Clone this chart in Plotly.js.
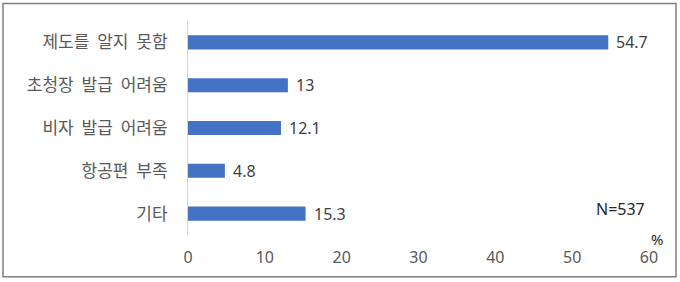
<!DOCTYPE html>
<html><head><meta charset="utf-8">
<script src="https://cdn.plot.ly/plotly-3.0.1.min.js"></script>
<style>html,body{margin:0;padding:0;background:#fff;}#chart{width:680px;height:282px;}
#chart .ytick text{word-spacing:4px;}</style>
</head><body><div id="chart"></div>
<script>
const categories = ["제도를 알지 못함", "초청장 발급 어려움", "비자 발급 어려움", "항공편 부족", "기타"];
const values = [54.7, 13, 12.1, 4.8, 15.3];
const xTicks = [0, 10, 20, 30, 40, 50, 60];
const noteText = "N=537";
const unitText = "%";

const FONT = "'Noto Sans', 'Noto Sans CJK KR', sans-serif";
const L = 188, R = 680 - 649, T = 20.5, B = 282 - 235.5;
const pw = 680 - L - R, ph = 282 - T - B;
const px = (x) => (x - L) / pw;
const py = (y) => 1 - (y - T) / ph;

const annotations = values.map((v, i) => ({
  x: v, y: categories[i], xref: 'x', yref: 'y', text: String(v), showarrow: false,
  xanchor: 'left', yanchor: 'middle', xshift: 6, font: {family: FONT, size: 16, color: '#404040'}
}));
annotations.push({x: px(647), y: py(209), xref: 'paper', yref: 'paper', text: noteText, showarrow: false,
  xanchor: 'right', yanchor: 'middle', font: {family: FONT, size: 16, color: '#262626'}});
annotations.push({x: px(657), y: py(240), xref: 'paper', yref: 'paper', text: unitText, showarrow: false,
  xanchor: 'center', yanchor: 'middle', font: {family: FONT, size: 15, color: '#262626'}});

Plotly.newPlot('chart', [{
  type: 'bar', orientation: 'h', x: values, y: categories,
  marker: {color: '#4472c4'}, hoverinfo: 'none'
}], {
  width: 680, height: 282,
  margin: {l: L, r: R, t: T, b: B, pad: 0},
  paper_bgcolor: '#fff', plot_bgcolor: '#fff',
  bargap: 0.67,
  showlegend: false,
  font: {family: FONT, color: '#595959', size: 16},
  xaxis: {range: [0, 60], tickvals: xTicks, ticktext: xTicks.map(String), showgrid: false, zeroline: false,
    showline: false, ticks: '', ticklabelstandoff: 11, tickfont: {family: FONT, size: 16, color: '#595959'}},
  yaxis: {autorange: 'reversed', showgrid: false, zeroline: false, showline: true, linecolor: '#d9d9d9', linewidth: 1,
    ticks: '', ticklabelstandoff: 16, tickfont: {family: "'Noto Sans CJK KR', sans-serif", size: 17, color: '#595959'}},
  annotations: annotations,
  shapes: [{type: 'rect', xref: 'paper', yref: 'paper', x0: px(3), x1: px(676), y0: py(3), y1: py(277.5),
    line: {color: '#7f7f7f', width: 1.5}, fillcolor: 'rgba(0,0,0,0)'}]
}, {staticPlot: true});
</script></body></html>
